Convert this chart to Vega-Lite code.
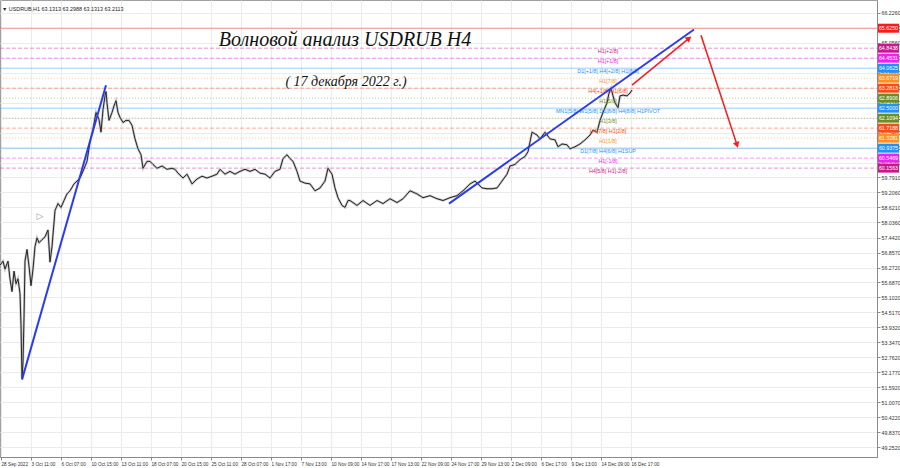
{
  "$schema": "https://vega.github.io/schema/vega-lite/v6.json",
  "width": 877,
  "height": 457,
  "autosize": {"type": "none"},
  "padding": {"left": 0, "top": 0, "right": 23, "bottom": 11},
  "background": "#ffffff",
  "config": {
    "view": {"stroke": "#a0a0a0", "strokeWidth": 1},
    "font": "Liberation Sans",
    "axis": {"domainColor": "#8a8a8a", "tickColor": "#8a8a8a", "tickSize": 3, "labelColor": "#333333", "labelFont": "Liberation Sans", "labelFontSize": 5.3, "gridColor": "#ebebeb", "gridWidth": 1, "title": null, "labelOverlap": false, "labelFlush": false},
    "axisX": {"labelFontSize": 4.7, "labelOverlap": false},
    "axisY": {"labelOverlap": false, "labelFontSize": 5.3}
  },
  "datasets": {
    "px": [
      {"t": 0, "c": 56.36}, {"t": 3, "c": 56.52}, {"t": 5, "c": 56.21}, {"t": 8, "c": 56.52}, {"t": 10, "c": 55.83},
      {"t": 12, "c": 55.33}, {"t": 14, "c": 56.13}, {"t": 16, "c": 55.64}, {"t": 18, "c": 55.83}, {"t": 20, "c": 55.25},
      {"t": 21, "c": 54.03}, {"t": 22, "c": 51.93}, {"t": 23, "c": 52.58}, {"t": 24, "c": 54.30}, {"t": 25, "c": 56.52},
      {"t": 27, "c": 56.98}, {"t": 29, "c": 56.33}, {"t": 31, "c": 55.56}, {"t": 33, "c": 56.21}, {"t": 35, "c": 57.09},
      {"t": 37, "c": 57.43}, {"t": 39, "c": 57.24}, {"t": 42, "c": 57.36}, {"t": 45, "c": 57.47}, {"t": 48, "c": 57.74},
      {"t": 50, "c": 56.48}, {"t": 52, "c": 57.09}, {"t": 55, "c": 58.50}, {"t": 58, "c": 58.77}, {"t": 61, "c": 58.62},
      {"t": 64, "c": 58.89}, {"t": 67, "c": 59.15}, {"t": 70, "c": 59.27}, {"t": 74, "c": 59.54}, {"t": 77, "c": 59.65},
      {"t": 80, "c": 59.77}, {"t": 83, "c": 60.03}, {"t": 87, "c": 60.42}, {"t": 90, "c": 61.18}, {"t": 93, "c": 61.68},
      {"t": 96, "c": 62.33}, {"t": 99, "c": 62.06}, {"t": 101, "c": 61.56}, {"t": 103, "c": 62.44}, {"t": 105, "c": 62.98},
      {"t": 106, "c": 63.15}, {"t": 107, "c": 62.71}, {"t": 109, "c": 62.02}, {"t": 112, "c": 62.33}, {"t": 114, "c": 62.59},
      {"t": 116, "c": 62.79}, {"t": 118, "c": 62.33}, {"t": 120, "c": 62.14}, {"t": 123, "c": 61.94}, {"t": 126, "c": 62.02},
      {"t": 129, "c": 62.02}, {"t": 132, "c": 61.83}, {"t": 135, "c": 61.30}, {"t": 138, "c": 60.91}, {"t": 141, "c": 60.68},
      {"t": 143, "c": 60.15}, {"t": 147, "c": 60.42}, {"t": 150, "c": 60.42}, {"t": 153, "c": 60.30}, {"t": 157, "c": 60.15},
      {"t": 162, "c": 60.24}, {"t": 167, "c": 60.11}, {"t": 172, "c": 60.15}, {"t": 175, "c": 60.11}, {"t": 178, "c": 59.96},
      {"t": 183, "c": 59.77}, {"t": 187, "c": 59.92}, {"t": 192, "c": 59.54}, {"t": 197, "c": 59.73}, {"t": 202, "c": 59.84},
      {"t": 207, "c": 59.77}, {"t": 212, "c": 59.84}, {"t": 217, "c": 59.92}, {"t": 220, "c": 60.11}, {"t": 225, "c": 59.92},
      {"t": 230, "c": 60.03}, {"t": 235, "c": 59.92}, {"t": 240, "c": 60.03}, {"t": 245, "c": 60.11}, {"t": 250, "c": 60.03},
      {"t": 255, "c": 60.11}, {"t": 260, "c": 59.96}, {"t": 265, "c": 59.92}, {"t": 270, "c": 59.77}, {"t": 275, "c": 60.03},
      {"t": 280, "c": 60.11}, {"t": 283, "c": 60.53}, {"t": 287, "c": 60.68}, {"t": 290, "c": 60.53}, {"t": 293, "c": 60.42},
      {"t": 297, "c": 60.03}, {"t": 300, "c": 59.65}, {"t": 305, "c": 59.57}, {"t": 310, "c": 59.54}, {"t": 315, "c": 59.27},
      {"t": 320, "c": 59.38}, {"t": 325, "c": 59.65}, {"t": 328, "c": 60.15}, {"t": 332, "c": 59.92}, {"t": 335, "c": 59.38},
      {"t": 338, "c": 59.00}, {"t": 342, "c": 58.70}, {"t": 345, "c": 58.62}, {"t": 348, "c": 58.89}, {"t": 350, "c": 58.89},
      {"t": 357, "c": 58.70}, {"t": 363, "c": 58.89}, {"t": 370, "c": 58.70}, {"t": 377, "c": 58.89}, {"t": 383, "c": 58.77},
      {"t": 390, "c": 58.96}, {"t": 397, "c": 58.81}, {"t": 403, "c": 58.96}, {"t": 410, "c": 59.27}, {"t": 417, "c": 59.15},
      {"t": 423, "c": 59.00}, {"t": 430, "c": 59.08}, {"t": 437, "c": 58.96}, {"t": 443, "c": 58.89}, {"t": 450, "c": 59.00},
      {"t": 457, "c": 59.08}, {"t": 463, "c": 59.27}, {"t": 470, "c": 59.54}, {"t": 475, "c": 59.65}, {"t": 478, "c": 59.54},
      {"t": 482, "c": 59.38}, {"t": 487, "c": 59.35}, {"t": 492, "c": 59.35}, {"t": 497, "c": 59.38}, {"t": 502, "c": 59.65},
      {"t": 507, "c": 59.92}, {"t": 510, "c": 60.24}, {"t": 515, "c": 60.30}, {"t": 520, "c": 60.49}, {"t": 525, "c": 60.61},
      {"t": 528, "c": 60.80}, {"t": 532, "c": 61.56}, {"t": 537, "c": 61.45}, {"t": 540, "c": 61.30}, {"t": 545, "c": 61.56},
      {"t": 550, "c": 61.30}, {"t": 555, "c": 61.26}, {"t": 558, "c": 60.99}, {"t": 562, "c": 61.10}, {"t": 567, "c": 61.07},
      {"t": 570, "c": 60.91}, {"t": 575, "c": 60.99}, {"t": 580, "c": 61.10}, {"t": 585, "c": 61.26}, {"t": 590, "c": 61.45},
      {"t": 593, "c": 61.64}, {"t": 597, "c": 61.56}, {"t": 600, "c": 62.02}, {"t": 603, "c": 62.33}, {"t": 607, "c": 62.71},
      {"t": 609, "c": 63.09}, {"t": 611, "c": 63.28}, {"t": 613, "c": 62.98}, {"t": 615, "c": 62.71}, {"t": 618, "c": 62.52},
      {"t": 620, "c": 62.98}, {"t": 623, "c": 63.01}, {"t": 627, "c": 62.98}, {"t": 630, "c": 63.09}, {"t": 632, "c": 63.21}
    ],
    "lv": [
      {"lv": 65.6250, "code": "top"}, {"lv": 64.8438, "code": "p2"}, {"lv": 64.4531, "code": "p1"},
      {"lv": 64.0625, "code": "m8"}, {"lv": 63.6719, "code": "m7"}, {"lv": 63.2813, "code": "m6"},
      {"lv": 62.8906, "code": "m5"}, {"lv": 62.5000, "code": "m4"}, {"lv": 62.1094, "code": "m3"},
      {"lv": 61.7188, "code": "m2"}, {"lv": 61.3281, "code": "m1"}, {"lv": 60.9375, "code": "m0"},
      {"lv": 60.5469, "code": "n1"}, {"lv": 60.1563, "code": "n2"}
    ],
    "ann": [
      {"lv": 64.8438, "code": "p2", "txt": "H1[+2/8]"},
      {"lv": 64.4531, "code": "p1", "txt": "H1[+1/8]"},
      {"lv": 64.0625, "code": "m8", "txt": "D1[+1/8] H4[+2/8] H1[8/8]"},
      {"lv": 63.6719, "code": "m7", "txt": "H1[7/8]"},
      {"lv": 63.2813, "code": "m6", "txt": "H4[+1/8] H1[6/8]"},
      {"lv": 62.8906, "code": "m5", "txt": "H1[5/8]"},
      {"lv": 62.5000, "code": "m4", "txt": "MN1[5/8] W1[5/8] D1[8/8] H4[8/8] H1PIVOT"},
      {"lv": 62.1094, "code": "m3", "txt": "H1[3/8]"},
      {"lv": 61.7188, "code": "m2", "txt": "H4[7/8] H1[2/8]"},
      {"lv": 61.3281, "code": "m1", "txt": "H1[1/8]"},
      {"lv": 60.9375, "code": "m0", "txt": "D1[7/8] H4[6/8] H1SUP"},
      {"lv": 60.5469, "code": "n1", "txt": "H1[-1/8]"},
      {"lv": 60.1563, "code": "n2", "txt": "H4[5/8] H1[-2/8]"}
    ],
    "trend": [
      {"g": "a", "t": 22, "p": 51.890}, {"g": "a", "t": 106, "p": 63.397},
      {"g": "b", "t": 449, "p": 58.771}, {"g": "b", "t": 694, "p": 65.576}
    ],
    "arrows": [
      {"g": "a1", "t": 632, "p": 63.397}, {"g": "a1", "t": 689, "p": 65.232},
      {"g": "a2", "t": 701, "p": 65.347}, {"g": "a2", "t": 737, "p": 61.065}
    ],
    "heads": [
      {"g": "a1", "t": 689, "p": 65.232},
      {"g": "a2", "t": 737, "p": 61.065}
    ]
  },
  "encoding": {
    "x": {"type": "quantitative", "scale": {"domain": [0, 877], "nice": false, "zero": false},
      "axis": {"orient": "bottom", "values": [1, 31, 61, 91, 121, 151, 181, 211, 241, 271, 301, 331, 361, 391, 421, 451, 481, 511, 541, 571, 601, 631],
        "labelAlign": "left", "labelPadding": 1, "labelFlush": false, "labelOverlap": false, "grid": true,
        "labelExpr": "['28 Sep 2022','3 Oct 11:00','6 Oct 07:00','10 Oct 15:00','13 Oct 11:00','18 Oct 07:00','20 Oct 15:00','25 Oct 11:00','28 Oct 07:00','1 Nov 17:00','7 Nov 13:00','10 Nov 09:00','14 Nov 17:00','17 Nov 13:00','22 Nov 09:00','24 Nov 17:00','29 Nov 13:00','2 Dec 09:00','6 Dec 17:00','9 Dec 13:00','14 Dec 09:00','16 Dec 17:00'][round((datum.value-1)/30)]"}},
    "y": {"type": "quantitative", "scale": {"domain": [49.061, 66.532], "nice": false, "zero": false},
      "axis": {"orient": "right", "grid": true, "labelPadding": 1, "labelOverlap": false, "labelFlush": false, "format": ".4f",
        "values": [66.226, 65.641, 65.056, 64.471, 63.886, 63.301, 62.716, 62.131, 61.546, 60.961, 60.376, 59.791, 59.206, 58.621, 58.036, 57.442, 56.857, 56.272, 55.687, 55.102, 54.517, 53.932, 53.347, 52.762, 52.177, 51.592, 51.007, 50.422, 49.837, 49.252]}}
  },
  "layer": [
    {
      "data": {"name": "lv"},
      "mark": {"type": "rule", "strokeWidth": 1, "opacity": 0.45},
      "encoding": {
        "x": {"datum": 0, "type": "quantitative"},
        "x2": {"datum": 877},
        "y": {"field": "lv", "type": "quantitative"},
        "color": {"field": "code", "type": "nominal", "legend": null,
          "scale": {"domain": ["top", "p2", "p1", "m8", "m7", "m6", "m5", "m4", "m3", "m2", "m1", "m0", "n1", "n2"],
            "range": ["#ff1a1a", "#c8188c", "#ee22ee", "#1e90ff", "#ff9020", "#ff4a14", "#6b8e23", "#1e90ff", "#6b8e23", "#ff4a14", "#ff9020", "#1e90ff", "#ee22ee", "#c8188c"]}},
        "strokeDash": {"field": "code", "type": "nominal", "legend": null,
          "scale": {"domain": ["top", "p2", "p1", "m8", "m7", "m6", "m5", "m4", "m3", "m2", "m1", "m0", "n1", "n2"],
            "range": [[1, 0], [4, 2], [4, 2], [1, 0], [1, 2], [4, 2], [1, 2], [1, 0], [1, 2], [4, 2], [1, 2], [1, 0], [4, 2], [4, 2]]}}
      }
    },
    {
      "data": {"name": "px"},
      "mark": {"type": "line", "color": "#c4c4c4", "strokeWidth": 2.4},
      "encoding": {
        "x": {"field": "t", "type": "quantitative"},
        "y": {"field": "c", "type": "quantitative"}
      }
    },
    {
      "data": {"name": "px"},
      "mark": {"type": "line", "color": "#262626", "strokeWidth": 1},
      "encoding": {
        "x": {"field": "t", "type": "quantitative"},
        "y": {"field": "c", "type": "quantitative"}
      }
    },
    {
      "data": {"name": "ann"},
      "mark": {"type": "text", "font": "Liberation Sans", "fontSize": 5.4, "align": "center", "baseline": "middle", "dy": 3},
      "encoding": {
        "x": {"datum": 608, "type": "quantitative"},
        "y": {"field": "lv", "type": "quantitative"},
        "text": {"field": "txt"},
        "color": {"field": "code", "type": "nominal", "legend": null}
      }
    },
    {
      "data": {"name": "trend"},
      "mark": {"type": "line", "color": "#2a3cf0", "strokeWidth": 2},
      "encoding": {
        "x": {"field": "t", "type": "quantitative"},
        "y": {"field": "p", "type": "quantitative"},
        "detail": {"field": "g"}
      }
    },
    {
      "data": {"name": "arrows"},
      "mark": {"type": "line", "color": "#f52020", "strokeWidth": 1.6},
      "encoding": {
        "x": {"field": "t", "type": "quantitative"},
        "y": {"field": "p", "type": "quantitative"},
        "detail": {"field": "g"}
      }
    },
    {
      "data": {"name": "heads"},
      "mark": {"type": "point", "shape": "triangle-up", "filled": true, "color": "#f52020", "size": 45, "opacity": 1},
      "encoding": {
        "x": {"field": "t", "type": "quantitative"},
        "y": {"field": "p", "type": "quantitative"},
        "angle": {"field": "g", "type": "nominal", "scale": {"domain": ["a1", "a2"], "range": [50, 162]}, "legend": null}
      }
    },
    {
      "data": {"name": "lv"},
      "mark": {"type": "bar", "height": 9},
      "encoding": {
        "x": {"datum": 878, "type": "quantitative"},
        "x2": {"datum": 899},
        "y": {"field": "lv", "type": "quantitative"},
        "color": {"field": "code", "type": "nominal", "legend": null}
      }
    },
    {
      "data": {"name": "lv"},
      "mark": {"type": "text", "font": "Liberation Sans", "fontSize": 5.3, "color": "#ffffff", "align": "center", "baseline": "middle"},
      "encoding": {
        "x": {"datum": 888.5, "type": "quantitative"},
        "y": {"field": "lv", "type": "quantitative"},
        "text": {"field": "lv", "type": "quantitative", "format": ".4f"}
      }
    },
    {
      "data": {"values": [{"t": 345, "p": 65.156, "txt": "Волновой анализ USDRUB H4"}]},
      "mark": {"type": "text", "font": "Liberation Serif", "fontStyle": "italic", "fontSize": 20, "color": "#111111", "align": "center", "baseline": "middle"},
      "encoding": {
        "x": {"field": "t", "type": "quantitative"},
        "y": {"field": "p", "type": "quantitative"},
        "text": {"field": "txt"}
      }
    },
    {
      "data": {"values": [{"t": 346, "p": 63.512, "txt": "( 17 декабря 2022 г.)"}]},
      "mark": {"type": "text", "font": "Liberation Serif", "fontStyle": "italic", "fontSize": 14, "color": "#111111", "align": "center", "baseline": "middle"},
      "encoding": {
        "x": {"field": "t", "type": "quantitative"},
        "y": {"field": "p", "type": "quantitative"},
        "text": {"field": "txt"}
      }
    },
    {
      "data": {"values": [{"t": 2, "p": 66.38, "txt": "▼  USDRUB,H1  63.1313 63.2988 63.1313 63.2113"}]},
      "mark": {"type": "text", "font": "Liberation Sans", "fontSize": 5.4, "color": "#222222", "align": "left", "baseline": "middle"},
      "encoding": {
        "x": {"field": "t", "type": "quantitative"},
        "y": {"field": "p", "type": "quantitative"},
        "text": {"field": "txt"}
      }
    },
    {
      "data": {"values": [{"t": 40, "p": 58.27, "txt": "▷"}]},
      "mark": {"type": "text", "font": "DejaVu Sans", "fontSize": 9, "color": "#9a9a9a", "align": "center", "baseline": "middle"},
      "encoding": {
        "x": {"field": "t", "type": "quantitative"},
        "y": {"field": "p", "type": "quantitative"},
        "text": {"field": "txt"}
      }
    }
  ]
}
